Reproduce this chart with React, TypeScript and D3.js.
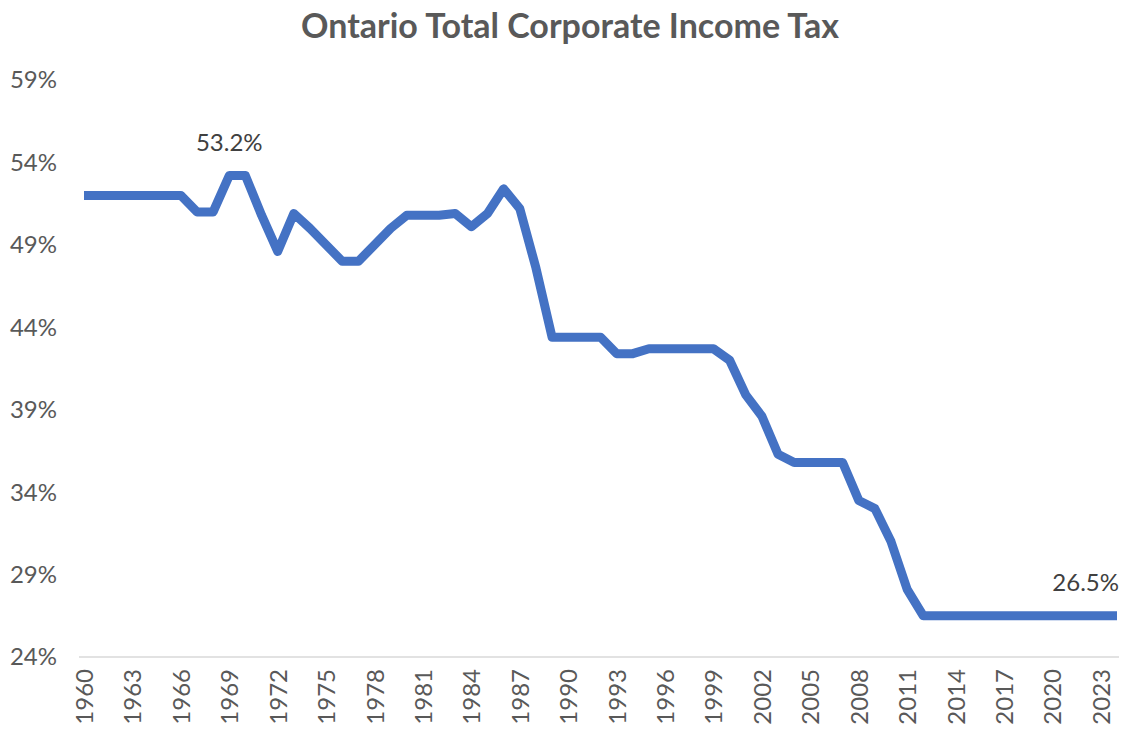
import { useEffect, useRef } from "react";
import * as d3 from "d3";

// Ontario combined (federal + provincial) corporate income tax rate, %
const years: number[] = d3.range(1960, 2025);
const rates: number[] = [
  52.0, 52.0, 52.0, 52.0, 52.0, 52.0, 52.0, // 1960-1966
  51.0, 51.0, 53.2, 53.2, 50.8, 48.6, 50.9, // 1967-1973
  50.0, 49.0, 48.0, 48.0, 49.0, 50.0, 50.8, // 1974-1980
  50.8, 50.8, 50.9, 50.1, 50.9, 52.4, 51.2, // 1981-1987
  47.6, 43.4, 43.4, 43.4, 43.4, 42.4, 42.4, // 1988-1994
  42.7, 42.7, 42.7, 42.7, 42.7, 42.0, 39.9, // 1995-2001
  38.6, 36.3, 35.8, 35.8, 35.8, 35.8, 33.5, // 2002-2008
  33.0, 31.0, 28.1, 26.5, 26.5, 26.5, 26.5, // 2009-2015
  26.5, 26.5, 26.5, 26.5, 26.5, 26.5, 26.5, // 2016-2022
  26.5, 26.5, // 2023-2024
];
const yTicks: number[] = [24, 29, 34, 39, 44, 49, 54, 59];
const labelledYears: number[] = [1969, 2024];

export default function App() {
  const ref = useRef<SVGSVGElement>(null);

  useEffect(() => {
    const svg = d3.select(ref.current);
    svg.selectAll("*").remove();

    const width = 1122;
    const height = 732;
    const left = 84;
    const right = 1117;
    const top = 80;
    const bottom = 657;
    const font = "Lato, 'Open Sans', sans-serif";

    const data = years.map((y, i) => ({ year: y, value: rates[i] }));

    const x = d3.scalePoint<number>().domain(years).range([left, right]);
    const y = d3.scaleLinear().domain([24, 59]).range([bottom, top]);

    svg.append("rect").attr("width", width).attr("height", height).attr("fill", "#fff");

    // title
    svg.append("text")
      .attr("x", 570)
      .attr("y", 38)
      .attr("text-anchor", "middle")
      .style("font-family", font)
      .style("font-size", "34px")
      .style("font-weight", "bold")
      .style("fill", "#595959")
      .text("Ontario Total Corporate Income Tax");

    // y axis labels
    svg.append("g")
      .selectAll("text")
      .data(yTicks)
      .enter()
      .append("text")
      .attr("x", 57)
      .attr("y", d => y(d))
      .attr("dy", "0.35em")
      .attr("text-anchor", "end")
      .style("font-family", font)
      .style("font-size", "24px")
      .style("fill", "#595959")
      .text(d => d + "%");

    // baseline
    svg.append("line")
      .attr("x1", left - 5)
      .attr("x2", right + 2)
      .attr("y1", bottom)
      .attr("y2", bottom)
      .attr("stroke", "#d9d9d9")
      .attr("stroke-width", 1.5);

    // x labels, every 3rd year, rotated
    svg.append("g")
      .selectAll("text")
      .data(years.filter(d => (d - 1960) % 3 === 0))
      .enter()
      .append("text")
      .attr("transform", d => `translate(${(x(d) as number) + 9},669) rotate(-90)`)
      .attr("text-anchor", "end")
      .style("font-family", font)
      .style("font-size", "24px")
      .style("fill", "#595959")
      .text(d => String(d));

    // the line
    const line = d3.line<{ year: number; value: number }>()
      .x(d => x(d.year) as number)
      .y(d => y(d.value));

    svg.append("path")
      .datum(data)
      .attr("d", line)
      .attr("fill", "none")
      .attr("stroke", "#4472C4")
      .attr("stroke-width", 9)
      .attr("stroke-linejoin", "round");

    // data labels
    svg.append("g")
      .selectAll("text")
      .data(data.filter(d => labelledYears.includes(d.year)))
      .enter()
      .append("text")
      .attr("x", d => (x(d.year) as number) + (d.year === 2024 ? 2 : 0))
      .attr("y", d => y(d.value) - 25)
      .attr("text-anchor", d => (d.year === 2024 ? "end" : "middle"))
      .style("font-family", font)
      .style("font-size", "24px")
      .style("fill", "#404040")
      .text(d => d.value.toFixed(1) + "%");
  }, []);

  return (
    <div style={{ position: "fixed", left: 0, top: 0, width: 1122, height: 732 }}>
      <svg ref={ref} width={1122} height={732} style={{ display: "block" }} />
    </div>
  );
}
